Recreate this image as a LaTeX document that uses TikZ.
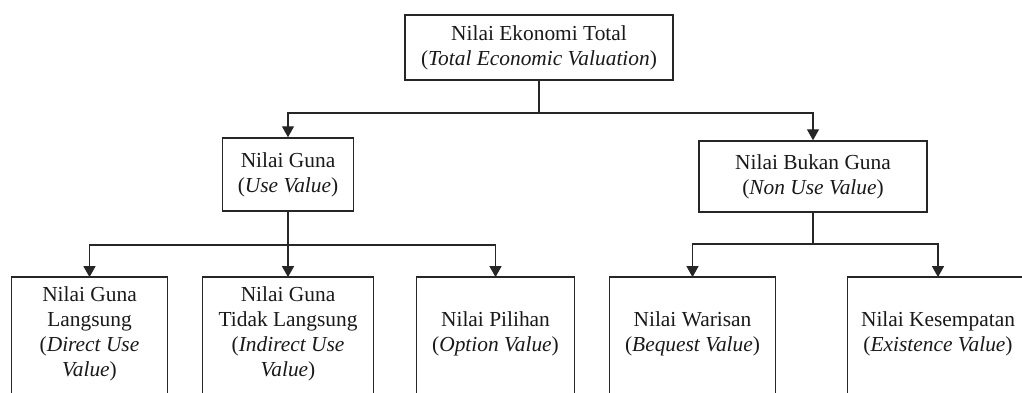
\documentclass[tikz,border=0pt]{standalone}
\usepackage{fontspec}
\setmainfont{Liberation Serif}
\usetikzlibrary{arrows.meta}
\begin{document}
\begin{tikzpicture}[x=0.5pt,y=-0.5pt,
  txt/.style={align=center, inner sep=0pt, font=\fontsize{10.7pt}{12.4pt}\selectfont, text=black!90},
  box/.style={txt, draw=black!85, line width=0.75pt},
  openbox/.style={txt, font=\fontsize{10.7pt}{12.6pt}\selectfont},
  frame/.style={draw=black!85, line width=0.75pt},
  link/.style={draw=black!85, line width=0.7pt},
  arr/.style={link, -{Triangle[length=5.5pt,width=6pt]}}]
\useasboundingbox (0,0) rectangle (1022,392);
\clip (0,0) rectangle (1022,392);
% top
\node[box, minimum width=134pt, minimum height=32.5pt] (top) at (539,47.5)
  {Nilai Ekonomi Total\\(\textit{Total Economic Valuation})};
% level 2
\node[box, minimum width=65.5pt, minimum height=36.5pt] (guna) at (288,174.5)
  {Nilai Guna\\(\textit{Use Value})};
\node[box, minimum width=114pt, minimum height=35.5pt] (bukan) at (813,176.5)
  {Nilai Bukan Guna\\(\textit{Non Use Value})};
% level 3 (boxes run past the bottom edge)
\node[openbox, minimum width=77.5pt, minimum height=56.5pt] (b1) at (89.5,334)
  {Nilai Guna\\Langsung\\(\textit{Direct Use}\\\textit{Value})};
\node[openbox, minimum width=85pt, minimum height=56.5pt] (b2) at (288,334)
  {Nilai Guna\\Tidak Langsung\\(\textit{Indirect Use}\\\textit{Value})};
\node[openbox, minimum width=78.5pt, minimum height=56.5pt] (b3) at (495.5,334)
  {Nilai Pilihan\\(\textit{Option Value})};
\node[openbox, minimum width=82.5pt, minimum height=56.5pt] (b4) at (692.5,334)
  {Nilai Warisan\\(\textit{Bequest Value})};
\node[openbox, minimum width=90pt, minimum height=56.5pt] (b5) at (938,334)
  {Nilai Kesempatan\\(\textit{Existence Value})};
\foreach \b in {b1,b2,b3,b4,b5}{
  \draw[frame] ([yshift=-20pt]\b.south west) -- (\b.north west) -- (\b.north east) -- ([yshift=-20pt]\b.south east);
}
% connectors
\coordinate (j1) at (539,113);
\coordinate (j2) at (288,245);
\coordinate (j3) at (813,244);
\draw[link] (top.south) -- (j1);
\draw[arr] (j1) -| (guna.north);
\draw[arr] (j1) -| (bukan.north);
\draw[link] (guna.south) -- (j2);
\draw[arr] (j2) -| (b1.north);
\draw[arr] (j2) -- (b2.north);
\draw[arr] (j2) -| (b3.north);
\draw[link] (bukan.south) -- (j3);
\draw[arr] (j3) -| (b4.north);
\draw[arr] (j3) -| (b5.north);
\end{tikzpicture}
\end{document}
